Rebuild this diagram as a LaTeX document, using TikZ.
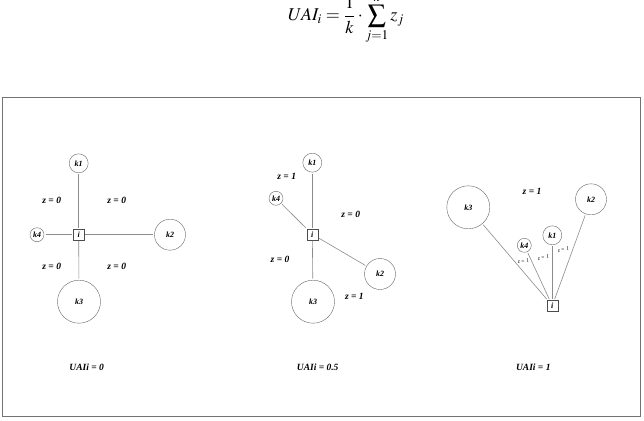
\documentclass[tikz,border=0pt]{standalone}
\usepackage{mathptmx}
\usepackage{fontspec}
\setmainfont{Liberation Serif}

\tikzset{peer/.style={draw=black!60, circle, inner sep=0pt, outer sep=1.5pt,
           font=\fontsize{8}{8}\selectfont\bfseries\itshape},
         self/.style={draw=black!70, rectangle, inner sep=0pt, outer sep=1pt,
           minimum size=11pt, font=\fontsize{8}{8}\selectfont\bfseries\itshape},
         link/.style={draw=black!45, line width=0.6pt},
         small peer/.style={peer, minimum size=14pt},
         mid peer/.style={peer, minimum size=19pt},
         big peer/.style={peer, minimum size=31pt},
         huge peer/.style={peer, minimum size=43pt}}

\begin{document}
\begin{tikzpicture}[
    x = 1pt, y = -1pt,  % pixel grid, y downwards
    zlabel/.style = {inner sep=0pt, font=\fontsize{9.5}{10}\selectfont\bfseries\itshape},
    tiny zlabel/.style = {inner sep=0pt, rotate=10, font=\fontsize{5.5}{6}\selectfont\itshape},
    caption/.style = {inner sep=0pt, font=\fontsize{9.5}{10}\selectfont\bfseries\itshape}
  ]
  \useasboundingbox[fill=white] (0,0) rectangle (644,420);
  \node[anchor=base, inner sep=0pt, font=\fontsize{18}{20}\selectfont] (formula) at (346,21)
    {$\displaystyle UAI_i = \frac{1}{k}\cdot\sum_{j=1}^{k} z_j$};
  \draw[black!55, line width=1pt] (2,97) rectangle (640,416);

  % UAIi = 0
  \node[self] (i-a) at (78.7,234.7) {i};
  \node[mid peer] (k1-a) at (78.7,163.3) {k1};
  \node[small peer] (k4-a) at (37,234.7) {k4};
  \node[big peer] (k2-a) at (170,234.7) {k2};
  \node[huge peer] (k3-a) at (79,301.7) {k3};
  \foreach \k in {k1,k2,k3,k4}
    \draw[link] (i-a) -- (\k-a);
  \node[zlabel] (z1-a) at (51.7,200.7) {z = 0};
  \node[zlabel] (z2-a) at (116.7,200.7) {z = 0};
  \node[zlabel] (z3-a) at (51.7,266) {z = 0};
  \node[zlabel] (z4-a) at (116.7,266) {z = 0};
  \node[caption] (uai-a) at (86.7,367.3) {UAIi = 0};

  % UAIi = 0.5
  \node[self] (i-b) at (312.3,234.3) {i};
  \node[mid peer] (k1-b) at (312.3,162.7) {k1};
  \node[small peer] (k4-b) at (276,198.3) {k4};
  \node[big peer] (k2-b) at (380,274) {k2};
  \node[huge peer] (k3-b) at (313,301.7) {k3};
  \foreach \k in {k1,k2,k3,k4}
    \draw[link] (i-b) -- (\k-b);
  \node[zlabel] (z1-b) at (286.7,176.7) {z = 1};
  \node[zlabel] (z2-b) at (350.7,214.3) {z = 0};
  \node[zlabel] (z3-b) at (280,259.3) {z = 0};
  \node[zlabel] (z4-b) at (354.3,296.7) {z = 1};
  \node[caption] (uai-b) at (317.7,367.3) {UAIi = 0.5};

  % UAIi = 1
  \node[self] (i-c) at (552.3,305.7) {i};
  \node[huge peer] (k3-c) at (468.3,207.3) {k3};
  \node[big peer] (k2-c) at (591,199.3) {k2};
  \node[mid peer] (k1-c) at (552.3,235.3) {k1};
  \node[small peer] (k4-c) at (524.3,245.3) {k4};
  \foreach \k in {k1,k2,k3,k4}
    \draw[link] (i-c) -- (\k-c);
  \node[zlabel] (z0-c) at (532,191) {z = 1};
  \node[tiny zlabel] (z1-c) at (523.3,261) {z = 1};
  \node[tiny zlabel] (z2-c) at (543.3,257.7) {z = 1};
  \node[tiny zlabel] (z3-c) at (563.3,249.3) {z = 1};
  \node[caption] (uai-c) at (533.3,367.3) {UAIi = 1};
\end{tikzpicture}
\end{document}
